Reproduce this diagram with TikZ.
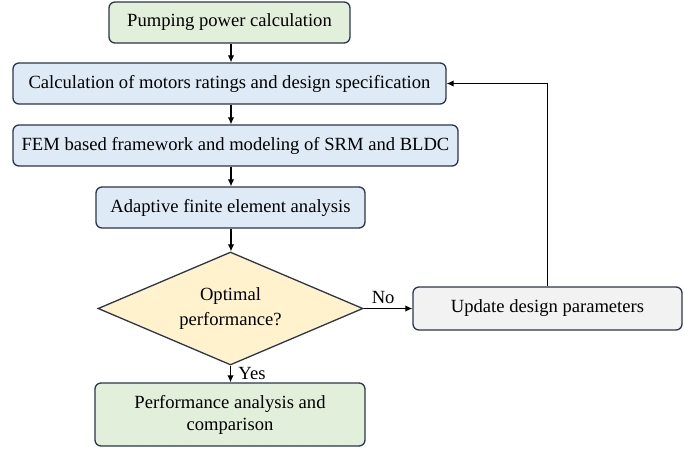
\documentclass[tikz,border=0pt]{standalone}
\usepackage{fontspec}
\setmainfont{Liberation Serif}
\usetikzlibrary{shapes.geometric,arrows.meta}
\definecolor{bordc}{HTML}{2B3648}
\definecolor{greenf}{HTML}{E2EFDA}
\definecolor{bluef}{HTML}{DEEBF7}
\definecolor{yellf}{HTML}{FFF2CC}
\definecolor{grayf}{HTML}{F2F2F2}
\begin{document}
\begin{tikzpicture}[x=1pt,y=-1pt,
  every node/.style={font=\fontsize{18.6}{22}\selectfont},
  box/.style={draw=bordc,line width=1.3pt,rounded corners=6pt,inner sep=0pt,align=center},
  arr/.style={-{Latex[length=7pt,width=6.5pt]},line width=1.2pt,black}]
\useasboundingbox (0,0) rectangle (685,448);
\node[box,fill=greenf,minimum width=241pt,minimum height=41pt] (p1) at (229.5,22.5) {Pumping power calculation};
\node[box,fill=bluef,minimum width=433pt,minimum height=41pt] (p2) at (229.5,83.5) {Calculation of motors ratings and design specification};
\node[box,fill=bluef,minimum width=445pt,minimum height=41pt] (p3) at (235.5,145.5) {FEM based framework and modeling of SRM and BLDC};
\node[box,fill=bluef,minimum width=269pt,minimum height=41pt] (p4) at (230.5,207.5) {Adaptive finite element analysis};
\node[draw=bordc,line width=1.3pt,fill=yellf,diamond,aspect=2.35,minimum width=265pt,minimum height=113pt,inner sep=0pt,align=center,font=\fontsize{18.6}{24.5}\selectfont] (d) at (230.5,308.5) {Optimal\\performance?};
\node[box,fill=grayf,minimum width=269pt,minimum height=43pt] (u) at (547.5,308.5) {Update design parameters};
\node[box,fill=greenf,minimum width=270pt,minimum height=63pt] (p5) at (230,414.5) {Performance analysis and\\comparison};
\coordinate (c1) at (231,43);
\draw[arr] (p1.south -| c1) -- (p2.north -| c1);
\draw[arr] (p2.south -| c1) -- (p3.north -| c1);
\draw[arr] (p3.south -| c1) -- (p4.north -| c1);
\draw[arr] (p4.south -| c1) -- (d.north -| c1);
\draw[arr] (d.south) -- node[right,pos=0.45,xshift=4pt] (yes) {Yes} (p5.north -| d.south);
\draw[arr] (d.east) -- node[above,pos=0.4,yshift=1pt] (no) {No} (u.west);
\draw[arr] (u.north) |- (p2.east);
\end{tikzpicture}
\end{document}
